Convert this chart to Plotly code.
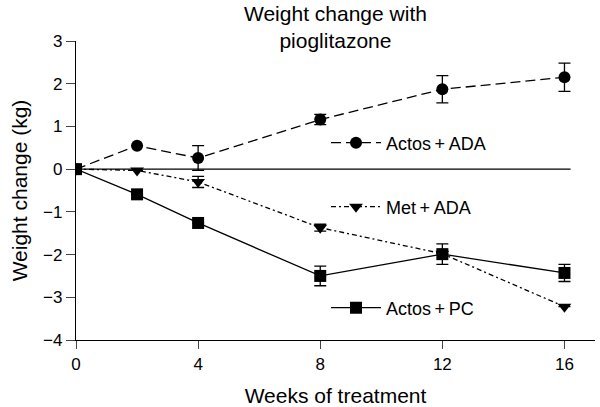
import plotly.graph_objects as go

weeks = [0, 2, 4, 8, 12, 16]

actos_ada = [0, 0.55, 0.26, 1.16, 1.87, 2.15]
actos_ada_err = [0, 0, 0.29, 0.12, 0.32, 0.33]

met_ada = [0, -0.03, -0.30, -1.37, -1.98, -3.22]
met_ada_err = [0, 0, 0.13, 0.08, 0, 0]

actos_pc = [0, -0.59, -1.26, -2.50, -1.99, -2.43]
actos_pc_err = [0, 0, 0, 0.23, 0.24, 0.20]

names = ["Actos\u2009+\u2009ADA", "Met\u2009+\u2009ADA", "Actos\u2009+\u2009PC"]

x_ticks = [0, 4, 8, 12, 16]
y_ticks = [-4, -3, -2, -1, 0, 1, 2, 3]

FONT = "Liberation Sans, Arial, sans-serif"

fig = go.Figure()

def add(y, err, name, symbol, dash, legend):
    fig.add_trace(go.Scatter(
        x=weeks, y=y, name=name, mode="lines+markers",
        line=dict(color="black", width=1.3, dash=dash),
        marker=dict(symbol=symbol, size=12, color="black"),
        error_y=dict(type="data", array=err, visible=True, color="black",
                     thickness=1.3, width=6),
        legend=legend, showlegend=True,
    ))

add(actos_ada, actos_ada_err, names[0], "circle", "10px,5px", "legend")
add(met_ada, met_ada_err, names[1], "triangle-down", "5px,3px,2px,3px", "legend2")
add(actos_pc, actos_pc_err, names[2], "square", "solid", "legend3")

fig.add_shape(type="line", xref="x", yref="y", x0=0, x1=16.2, y0=0, y1=0,
              line=dict(color="black", width=1.3), layer="below")

fig.add_annotation(text="Weight change with<br>pioglitazone", xref="paper", yref="paper",
                   x=0.5, y=1.0, xanchor="center", yanchor="bottom", showarrow=False,
                   font=dict(size=21, color="black", family=FONT), yshift=-13)

leg = dict(bgcolor="rgba(0,0,0,0)", borderwidth=0, font=dict(size=18, color="black", family=FONT),
           xanchor="left", yanchor="middle", itemwidth=50)

fig.update_layout(
    width=600, height=407,
    margin=dict(l=76, r=5, t=41, b=67),
    paper_bgcolor="white", plot_bgcolor="white",
    font=dict(family=FONT, color="black"),
    showlegend=True,
    legend=dict(**leg, x=0.4817, y=0.659),
    legend2=dict(**leg, x=0.4817, y=0.445),
    legend3=dict(**leg, x=0.4817, y=0.107),
    xaxis=dict(range=[0, 17], tickvals=x_ticks, ticks="outside", ticklen=8, tickwidth=1.3,
               showline=True, linecolor="black", linewidth=1.3, showgrid=False, zeroline=False,
               automargin=False,
               tickfont=dict(size=17), title=dict(text="Weeks of treatment", font=dict(size=21), standoff=16)),
    yaxis=dict(range=[-4, 3], tickvals=y_ticks, ticks="outside", ticklen=9, tickwidth=1.3,
               showline=True, linecolor="black", linewidth=1.3, showgrid=False, zeroline=False,
               automargin=False,
               tickfont=dict(size=17), title=dict(text="Weight change (kg)", font=dict(size=21), standoff=9)),
)

fig.write_html("out.html", config={"displayModeBar": False},
               post_script="document.body.style.margin='0';document.body.style.padding='0';")
